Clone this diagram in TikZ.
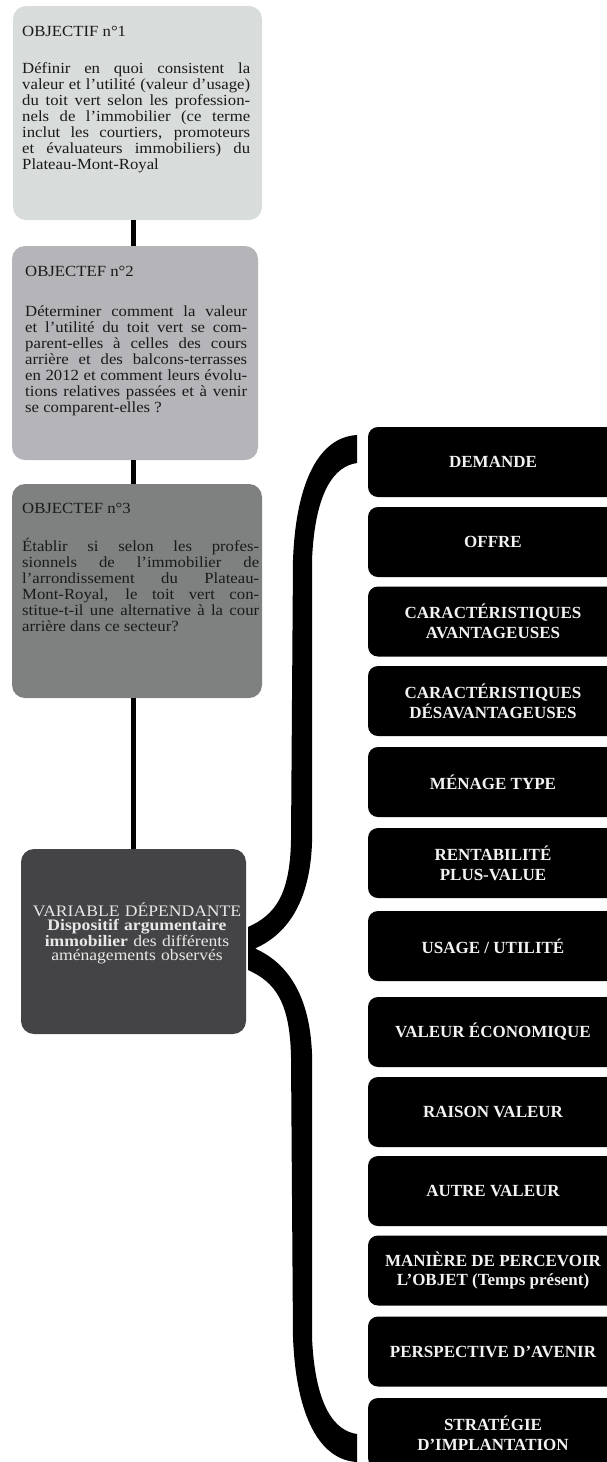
\documentclass[tikz,border=0pt]{standalone}
\usepackage{fontspec}
\setmainfont{Liberation Serif}
\newfontfamily\objfont[FakeStretch=1.08]{Liberation Serif}
\newfontfamily\varfont[FakeStretch=1.1]{Liberation Serif}
\definecolor{objA}{HTML}{D8DCDB}
\definecolor{objB}{HTML}{B4B4B9}
\definecolor{objC}{HTML}{7F8080}
\definecolor{objD}{HTML}{444446}
\definecolor{txtdark}{HTML}{1A1A1A}
\definecolor{txtlight}{HTML}{E8E8E8}
\tolerance=10000
\hbadness=10000
\hyphenpenalty=10000
\begin{document}
\begin{tikzpicture}[x=1pt,y=-1pt,
  objbox/.style={rounded corners=13pt, inner sep=0pt, draw=none},
  objtitle/.style={inner sep=0pt, text=txtdark, font=\objfont\fontsize{15.5}{16}\selectfont},
  objtext/.style={inner sep=0pt, text=txtdark, align=justify,
    font=\objfont\fontsize{15.5}{16}\selectfont},
  vartext/.style={inner sep=0pt, text=txtlight, align=center,
    font=\varfont\fontsize{16}{14.5}\selectfont},
  rbox/.style={fill=black, rounded corners=10pt, minimum width=250pt, minimum height=70pt,
    inner sep=0pt, text=white!95!black, align=center,
    font=\bfseries\fontsize{17}{20}\selectfont},
  conn/.style={line width=5pt, black}]
\clip (0,0) rectangle (607,1462);
\fill[white] (0,0) rectangle (607,1462);

% left boxes
\node[objbox, fill=objA, minimum width=249pt, minimum height=214pt] (b1) at (137.5,113) {};
\node[objbox, fill=objB, minimum width=246pt, minimum height=214pt] (b2) at (135,353) {};
\node[objbox, fill=objC, minimum width=250pt, minimum height=214pt] (b3) at (137,591) {};
\node[objbox, fill=objD, minimum width=225pt, minimum height=185pt] (b4) at (133.5,941.5) {};

% connectors
\draw[conn] (b1.south -| b4.north) -- (b2.north -| b4.north);
\draw[conn] (b2.south -| b4.north) -- (b3.north -| b4.north);
\draw[conn] (b3.south -| b4.north) -- (b4.north);

% texts of objectives
\node[objtitle, anchor=base west] (t1) at (22,36.7) {OBJECTIF n°1};
\node[objtext, text width=228pt, anchor=base west] (p1) at (22,73)
 {Définir en quoi consistent la\linebreak valeur et l’utilité (valeur d’usage)\linebreak du toit vert selon les profession-\linebreak nels de l’immobilier (ce terme\linebreak inclut les courtiers, promoteurs\linebreak et évaluateurs immobiliers) du\linebreak Plateau-Mont-Royal};

\node[objtitle, anchor=base west] (t2) at (25,276) {OBJECTEF n°2};
\node[objtext, text width=222pt, anchor=base west] (p2) at (25,316.7)
 {Déterminer comment la valeur\linebreak et l’utilité du toit vert se com-\linebreak parent-elles à celles des cours\linebreak arrière et des balcons-terrasses\linebreak en 2012 et comment leurs évolu-\linebreak tions relatives passées et à venir\linebreak se comparent-elles ?};

\node[objtitle, anchor=base west] (t3) at (22,513.3) {OBJECTEF n°3};
\node[objtext, text width=237pt, anchor=base west] (p3) at (22,551.7)
 {Établir si selon les profes-\linebreak sionnels de l’immobilier de\linebreak l’arrondissement du Plateau-\linebreak Mont-Royal, le toit vert con-\linebreak stitue-t-il une alternative à la cour\linebreak arrière dans ce secteur?};

\node[vartext, text width=224pt, anchor=base] (vt) at (137,916)
 {VARIABLE DÉPENDANTE\\ \textbf{Dispositif argumentaire}\\ \textbf{immobilier} des différents\\ aménagements observés};

% brace
\fill[black] (357,435) .. controls (320,437) and (296,480) .. (293,560)
  -- (291,840) .. controls (290,895) and (275,915) .. (248,927)
  -- (248,970) .. controls (275,982) and (290,1002) .. (291,1057)
  -- (293,1337) .. controls (296,1417) and (320,1460) .. (357,1462)
  -- (357,1434) .. controls (335,1431) and (315,1407) .. (312,1337)
  -- (312,1054) .. controls (310,999) and (290,964) .. (255,948.5)
  .. controls (290,933) and (310,898) .. (312,843)
  -- (312,560) .. controls (315,490) and (335,466) .. (357,463) -- cycle;

% right boxes
\node[rbox] (r1) at (493,462) {DEMANDE};
\node[rbox] (r2) at (493,542) {OFFRE};
\node[rbox] (r3) at (493,621.5) {CARACTÉRISTIQUES\\AVANTAGEUSES};
\node[rbox] (r4) at (493,701) {CARACTÉRISTIQUES\\DÉSAVANTAGEUSES};
\node[rbox] (r5) at (493,782) {MÉNAGE TYPE};
\node[rbox] (r6) at (493,863) {RENTABILITÉ\\PLUS-VALUE};
\node[rbox] (r7) at (493,946) {USAGE / UTILITÉ};
\node[rbox] (r8) at (493,1032) {VALEUR ÉCONOMIQUE};
\node[rbox] (r9) at (493,1112) {RAISON VALEUR};
\node[rbox] (r10) at (493,1191) {AUTRE VALEUR};
\node[rbox] (r11) at (493,1270.5) {MANIÈRE DE PERCEVOIR\\L’OBJET (Temps présent)};
\node[rbox] (r12) at (493,1351.5) {PERSPECTIVE D’AVENIR};
\node[rbox] (r13) at (493,1433) {STRATÉGIE\\D’IMPLANTATION};
\end{tikzpicture}
\end{document}
